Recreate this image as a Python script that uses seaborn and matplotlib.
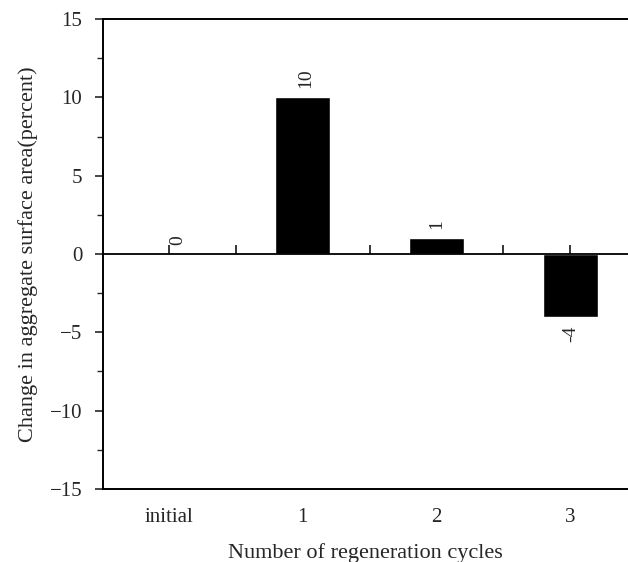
import pandas as pd
import numpy as np
import matplotlib.pyplot as plt
import seaborn as sns
from matplotlib.ticker import MultipleLocator

# data
cycles = ["initial", "1", "2", "3"]
change = [0, 10, 1, -4]
labels = ["0", "10", "1", "-4"]

df = pd.DataFrame({"cycle": cycles, "change": change})

sns.set_style("ticks")
plt.rcParams["font.family"] = ["Liberation Serif", "DejaVu Serif"]

fig = plt.figure(figsize=(6.28, 5.62), dpi=100)
ax = fig.add_axes([0.164, 0.13, 0.836, 0.836])

sns.barplot(data=df, x="cycle", y="change", color="black", width=0.41,
            saturation=1, ax=ax)

ax.set_xlim(-0.49, 3.43)
ax.set_ylim(-15, 15)
ax.yaxis.set_major_locator(MultipleLocator(5))
ax.yaxis.set_minor_locator(MultipleLocator(2.5))
ax.tick_params(axis="y", which="major", length=6, width=1.2, labelsize=15,
               direction="out", pad=9)
ax.tick_params(axis="y", which="minor", length=4, width=1.0, direction="out")
ax.tick_params(axis="x", length=0, labelsize=15, pad=14)

ax.axhline(0, color="black", lw=1.3, zorder=1)
# little marks sitting on the zero line
ax.vlines([0, 0.5, 1.5, 2.5, 3.0], 0, 0.6, color="black", lw=1.1)

for spine in ["left", "top", "bottom"]:
    ax.spines[spine].set_linewidth(1.4)
    ax.spines[spine].set_color("black")
ax.spines["right"].set_visible(False)

offsets = [0.07, 0.02, 0.0, 0.0]
for i, (v, t) in enumerate(zip(change, labels)):
    if v >= 0:
        ax.text(i + offsets[i], v + 0.6, t, rotation=90, ha="center", va="bottom", fontsize=14)
    else:
        ax.text(i, v - 0.6, t, rotation=90, ha="center", va="top", fontsize=14)

ax.set_xlabel("Number of regeneration cycles", fontsize=16, labelpad=11)
ax.set_ylabel("Change in aggregate surface area(percent)", fontsize=16, labelpad=8)

fig.savefig("out.png", dpi=100)
